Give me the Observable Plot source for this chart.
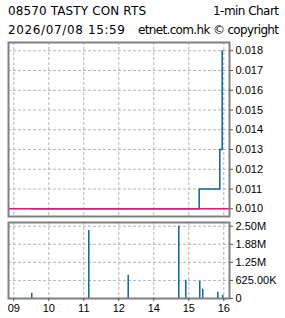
<!DOCTYPE html>
<html>
<head>
<meta charset="utf-8">
<script src="https://cdn.jsdelivr.net/npm/d3@7"></script>
<script src="https://cdn.jsdelivr.net/npm/@observablehq/plot@0.6"></script>
<style>
  html, body { margin: 0; padding: 0; background: #fff; }
  #wrap { position: relative; width: 285px; height: 318px; overflow: hidden; }
  #wrap > * { position: absolute; left: 0; }
</style>
</head>
<body>
<div id="wrap"></div>
<script>
// ---- data ----
const titleText = "08570 TASTY CON RTS";
const chartType = "1-min Chart";
const dateText = "2026/07/08 15:59";
const copyText = "etnet.com.hk \u00a9 copyright";

// x in trading-hour index units (0 = "09", 1 = "10", ... lunch removed)
const xTicks = [0, 1, 2, 3, 4, 5, 6];
const xTickLabels = ["09", "10", "11", "12", "14", "15", "16"];

const priceTimes = [0.514, 5.297, 5.886, 5.954, 5.963];
const prices = [0.010, 0.011, 0.013, 0.018, 0.018];
const prevClose = 0.010;
const priceTicks = [0.010, 0.011, 0.012, 0.013, 0.014, 0.015, 0.016, 0.017, 0.018];

const volTimes = [0.514, 2.143, 3.269, 4.714, 4.914, 5.314, 5.400, 5.829, 5.971];
const volumes = [180000, 2350000, 800000, 2500000, 630000, 600000, 320000, 220000, 110000];
const volTicks = [0, 625000, 1250000, 1875000, 2500000];
const volTickLabels = ["0", "625.00K", "1.25M", "1.88M", "2.50M"];

// ---- styles ----
const blue = "#0a64a0";
const pink = "#e0187c";
const gridColor = "#b4b4b4";
const frameColor = "#808080";
const font = "'Liberation Sans', Arial, sans-serif";

const wrap = document.getElementById("wrap");

// ---- header ----
const ns = "http://www.w3.org/2000/svg";
const head = document.createElementNS(ns, "svg");
head.setAttribute("width", 285);
head.setAttribute("height", 40);
head.style.top = "0px";
function addText(str, x, y, anchor, len) {
  const t = document.createElementNS(ns, "text");
  t.textContent = str;
  t.setAttribute("x", x);
  t.setAttribute("y", y);
  t.setAttribute("text-anchor", anchor);
  t.setAttribute("textLength", len);
  t.setAttribute("lengthAdjust", "spacing");
  t.setAttribute("font-family", "'DejaVu Sans', Verdana, sans-serif");
  t.setAttribute("font-size", "12px");
  t.setAttribute("fill", "#000");
  head.appendChild(t);
}
addText(titleText, 8, 15, "start", 138);
addText(chartType, 279, 15, "end", 66);
addText(dateText, 8, 34, "start", 117);
addText(copyText, 279, 34, "end", 141);
wrap.appendChild(head);

const priceData = priceTimes.map((t, i) => ({t, p: prices[i]}));
const volData = volTimes.map((t, i) => ({t, v: volumes[i]}));

const xDomain = [-0.151, 6.163];

// ---- price panel ----
const pricePlot = Plot.plot({
  width: 285,
  height: 178,
  marginTop: 2,
  marginBottom: 2,
  marginLeft: 8,
  marginRight: 56,
  style: {fontFamily: font, fontSize: "11px", background: "transparent", color: "#000"},
  x: {domain: xDomain, axis: null},
  y: {domain: [0.00961, 0.01842], axis: null},
  marks: [
    Plot.gridX(xTicks, {stroke: gridColor, strokeOpacity: 1, strokeDasharray: "3,2"}),
    Plot.gridY(priceTicks, {stroke: gridColor, strokeOpacity: 1, strokeDasharray: "3,2"}),
    Plot.line(priceData, {x: "t", y: "p", curve: "step-after", stroke: blue, strokeWidth: 1.5}),
    Plot.ruleY([prevClose], {stroke: pink, strokeWidth: 1.5}),
    Plot.frame({stroke: frameColor, strokeWidth: 2}),
    Plot.axisY(priceTicks, {anchor: "right", tickSize: 3, tickPadding: 3, label: null,
      tickFormat: d => d3.format(".3f")(d), stroke: "#555"})
  ]
});
pricePlot.style.top = "40px";
wrap.appendChild(pricePlot);

// ---- volume panel ----
const volPlot = Plot.plot({
  width: 285,
  height: 100,
  marginTop: 4,
  marginBottom: 20,
  marginLeft: 8,
  marginRight: 56,
  style: {fontFamily: font, fontSize: "11px", background: "transparent", color: "#000"},
  x: {domain: xDomain},
  y: {domain: [0, 2628000]},
  marks: [
    Plot.gridX(xTicks, {stroke: gridColor, strokeOpacity: 1, strokeDasharray: "3,2"}),
    Plot.gridY(volTicks.slice(1), {stroke: gridColor, strokeOpacity: 1, strokeDasharray: "3,2"}),
    Plot.ruleX(volData, {x: "t", y1: 0, y2: "v", stroke: blue, strokeWidth: 1.5}),
    Plot.frame({stroke: frameColor, strokeWidth: 2}),
    Plot.axisY(volTicks, {anchor: "right", tickSize: 3, tickPadding: 3, label: null,
      tickFormat: d => volTickLabels[volTicks.indexOf(d)], stroke: "#555"}),
    Plot.axisX(xTicks, {anchor: "bottom", tickSize: 3, tickPadding: 3, label: null,
      tickFormat: d => xTickLabels[xTicks.indexOf(d)], stroke: "#555"})
  ]
});
volPlot.style.top = "218px";
wrap.appendChild(volPlot);
</script>
</body>
</html>
